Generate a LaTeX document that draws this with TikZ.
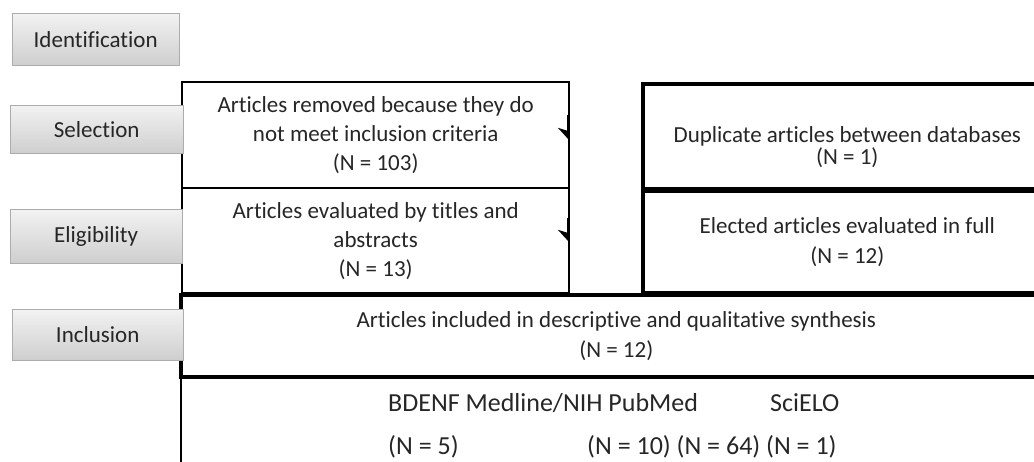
\documentclass[tikz,border=0pt]{standalone}
\usepackage{fontspec}
\setmainfont{Carlito}[Ligatures=NoCommon]
\usetikzlibrary{arrows.meta,calc}
\begin{document}
\begin{tikzpicture}[x=1pt,y=-1pt,
  every node/.style={text=black!85},
  stage/.style={draw=gray!65, top color=gray!10, bottom color=gray!38, anchor=north west,
    inner sep=0pt, font=\fontsize{23}{28}\selectfont},
  thinbox/.style={draw=black, line width=2.4pt, fill=white, anchor=north west, inner sep=0pt,
    align=center, font=\fontsize{23}{29}\selectfont},
  thickbox/.style={draw=black, line width=3.6pt, fill=white, anchor=north west, inner sep=0pt,
    align=center, font=\fontsize{23}{30}\selectfont},
  txt/.style={align=center, inner sep=0pt},
  dbtxt/.style={anchor=base west, inner sep=0pt, font=\fontsize{26}{30}\selectfont},
  barb/.style={line width=2.4pt, -{Stealth[length=11pt,width=20pt,inset=3pt,right]}}
]
\useasboundingbox (0,0) rectangle (1034,461);

% bottom region (databases)
\node[anchor=north west, minimum width=900pt, minimum height=100pt, inner sep=0pt] (db) at (181,375) {};
\draw[line width=2pt] (db.north west) -- (db.south west);

% main boxes
\node[thinbox, minimum width=387pt, minimum height=106pt] (rem) at (181,81)
  {Articles removed because they do\\ not meet inclusion criteria\\ (N = 103)};
\node[thinbox, minimum width=387pt, minimum height=105pt] (eval) at (181,187)
  {Articles evaluated by titles and\\ abstracts\\ (N = 13)};
\node[thickbox, minimum width=409pt, minimum height=105pt] (dup) at (641,82) {};
\node[txt, font=\fontsize{23}{22}\selectfont] (duptxt) at ($(dup.center)+(0,11)$)
  {Duplicate articles between databases\\ (N = 1)};
\node[thickbox, minimum width=409pt, minimum height=102pt] (elec) at (641,189)
  {Elected articles evaluated in full\\ (N = 12)};
\node[thickbox, minimum width=871pt, minimum height=82pt] (incl) at (179,293)
  {Articles included in descriptive and qualitative synthesis\\ (N = 12)};

% small arrow barbs on the right edge of the left boxes
\coordinate (b1s) at (568,115);
\coordinate (b1e) at (568,140);
\coordinate (b2s) at (568,218);
\coordinate (b2e) at (568,242);
\draw[barb] (b1s) -- (b1e);
\draw[barb] (b2s) -- (b2e);

% database texts
\node[dbtxt] (t1) at (388,411.5) {BDENF Medline/NIH PubMed};
\node[dbtxt] (t2) at (770,411.5) {SciELO};
\node[dbtxt] (t3) at (388,454.5) {(N = 5)};
\node[dbtxt] (t4) at (587,454.5) {(N = 10) (N = 64) (N = 1)};

% stage labels
\node[stage, minimum width=167pt, minimum height=52pt] (id) at (12,13) {Identification};
\node[stage, minimum width=173pt, minimum height=48pt] (sel) at (10,105) {Selection};
\node[stage, minimum width=172pt, minimum height=54pt] (eli) at (10,209) {Eligibility};
\node[stage, minimum width=171pt, minimum height=51pt] (inc) at (12,309) {Inclusion};
\end{tikzpicture}
\end{document}
